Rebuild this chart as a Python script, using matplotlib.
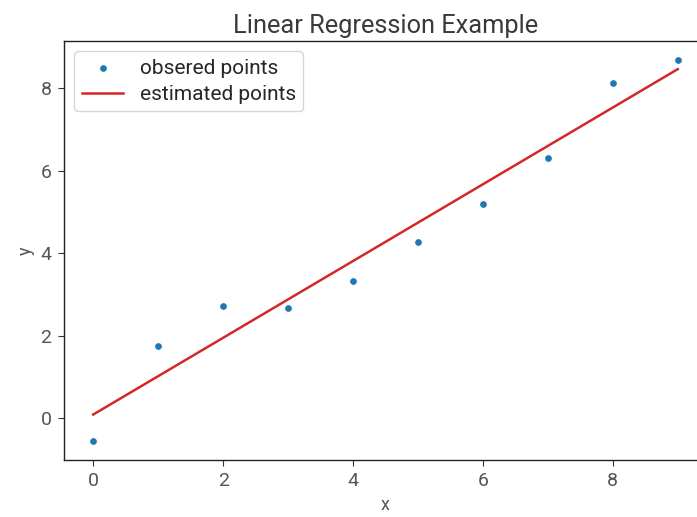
import matplotlib
matplotlib.use("Agg")
import matplotlib.pyplot as plt

x_vals = [0, 1, 2, 3, 4, 5, 6, 7, 8, 9]
y_observed = [-0.55, 1.75, 2.72, 2.66, 3.32, 4.27, 5.19, 6.30, 8.12, 8.68]
y_estimated = [0.09, 1.02, 1.95, 2.88, 3.81, 4.74, 5.67, 6.60, 7.53, 8.46]
title = "Linear Regression Example"
xlabel = "x"
ylabel = "y"

plt.rcParams['font.family'] = ['Roboto', 'DejaVu Sans']

fig = plt.figure(figsize=(6.97, 5.17), dpi=100)
ax = fig.add_axes([64/697, (517-460)/517, (707-64)/697, (460-41)/517])

ax.scatter(x_vals, y_observed, s=32, color='#1f77b4', edgecolor='white', linewidth=0.8,
           label='obsered points', zorder=3)
ax.plot(x_vals, y_estimated, color='#d62728', linewidth=1.8, label='estimated points')

ax.set_xticks([0, 2, 4, 6, 8])
ax.set_yticks([0, 2, 4, 6, 8])
ax.tick_params(axis='both', direction='out', length=4, width=0.8, color='#333333',
               labelsize=14, labelcolor='#555555', pad=5)
for sp in ax.spines.values():
    sp.set_color('#222222')
    sp.set_linewidth(1.0)
ax.spines['right'].set_visible(False)

ax.set_title(title, fontsize=18.3, color='#3a3a3a', pad=6)
ax.set_xlabel(xlabel, fontsize=13, color='#555555')
ax.set_ylabel(ylabel, fontsize=13, color='#555555')

leg = ax.legend(loc='upper left', fontsize=15, frameon=True, fancybox=True,
                borderpad=0.35, handlelength=2.0, labelspacing=0.35)
leg.get_frame().set_edgecolor('#cccccc')
for t in leg.get_texts():
    t.set_color('#262626')

fig.savefig('out.png', dpi=100)
